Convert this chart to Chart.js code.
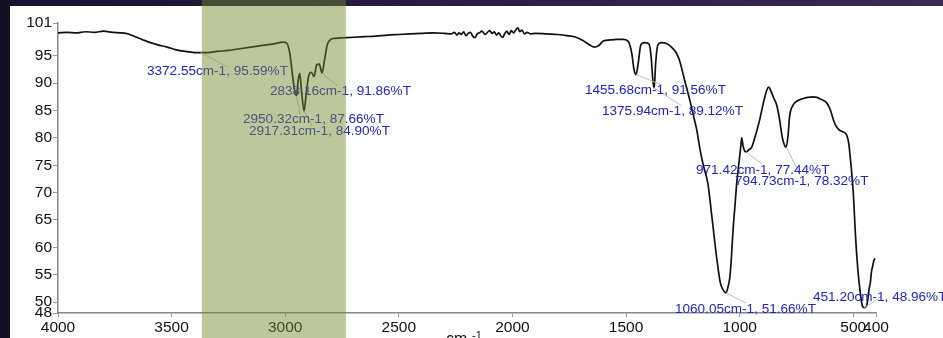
<!DOCTYPE html>
<html>
<head>
<meta charset="utf-8">
<script src="https://cdn.jsdelivr.net/npm/chart.js@4/dist/chart.umd.min.js"></script>
<style>
  html, body { margin: 0; padding: 0; background: #fff; }
  #wrap { width: 943px; height: 338px; }
</style>
</head>
<body>
<div id="wrap"><canvas id="grafica" width="943" height="338"></canvas></div>
<script>
// Espectro IR: número de onda (cm-1) y transmitancia (%T)
const numeroOnda = [
  4000, 3960, 3920, 3880, 3840, 3800, 3760, 3720, 3690, 3660, 3630, 3600, 3560, 3520, 3480, 3440, 3400, 3372, 3340, 3300,
  3250, 3200, 3150, 3100, 3050, 3010, 2995, 2980, 2968, 2960, 2950, 2943, 2936, 2928, 2917, 2908, 2897, 2885, 2873, 2862,
  2850, 2838, 2826, 2815, 2800, 2780, 2740, 2700, 2650, 2600, 2550, 2500, 2450, 2400, 2350, 2300, 2270, 2255, 2245, 2235,
  2225, 2215, 2205, 2195, 2185, 2175, 2165, 2155, 2145, 2135, 2120, 2110, 2100, 2090, 2080, 2070, 2060, 2050, 2042, 2035,
  2025, 2015, 2005, 1995, 1985, 1976, 1968, 1958, 1948, 1935, 1920, 1900, 1850, 1800, 1760, 1720, 1690, 1660, 1640, 1620,
  1600, 1570, 1540, 1510, 1490, 1475, 1465, 1456, 1447, 1435, 1420, 1400, 1390, 1382, 1376, 1370, 1360, 1345, 1320, 1300,
  1280, 1265, 1245, 1220, 1200, 1189, 1175, 1160, 1140, 1122, 1100, 1085, 1074, 1060, 1050, 1043, 1035, 1030, 1020, 1013,
  1003, 995, 991, 985, 978, 971, 960, 947, 930, 912, 895, 880, 872, 862, 850, 837, 825, 812, 802, 795,
  787, 780, 765, 749, 720, 700, 678, 660, 640, 617, 600, 585, 573, 560, 546, 530, 520, 510, 500, 490,
  480, 470, 460, 451, 442, 436, 430, 425, 420, 415, 410, 405
];
const transmitancia = [
  99.2, 99.3, 99.2, 99.4, 99.3, 99.5, 99.3, 99.2, 99.0, 98.5, 98.0, 97.5, 97.0, 96.6, 96.1, 95.8, 95.6, 95.59, 95.6, 95.8,
  96.0, 96.3, 96.6, 96.9, 97.2, 97.5, 97.4, 95.5, 91.5, 89.0, 87.66, 90.5, 91.8, 88.5, 84.9, 88.0, 91.3, 92.0, 91.2, 93.3,
  93.5, 91.86, 94.5, 97.0, 98.0, 98.2, 98.3, 98.4, 98.5, 98.6, 98.8, 98.9, 99.0, 99.1, 99.2, 99.1, 99.0, 99.3, 98.8, 99.2,
  98.9, 99.4, 98.7, 99.1, 99.3, 98.6, 98.3, 99.0, 99.2, 99.5, 98.9, 99.3, 99.6, 99.1, 99.4, 98.8, 99.2, 98.6, 98.4, 99.0,
  99.5, 98.9, 99.6, 99.2, 99.8, 100.1, 99.4, 99.7, 99.0, 99.3, 99.0, 99.1, 99.0, 98.9, 98.7, 98.4, 97.8, 97.0, 96.6, 96.9,
  97.7, 97.9, 98.0, 98.0, 97.6, 95.5, 92.5, 91.56, 93.5, 97.0, 97.4, 97.2, 95.0, 90.5, 89.12, 93.5, 97.0, 97.4, 97.2, 96.6,
  95.6, 94.2, 91.0, 87.0, 83.5, 81.5, 78.0, 75.0, 71.7, 65.5, 57.7, 53.5, 52.3, 51.66, 53.0, 54.6, 59.0, 62.6, 68.0, 71.7,
  75.5, 78.5, 80.0, 78.5, 77.6, 77.44, 77.8, 78.3, 80.5, 83.3, 86.5, 88.8, 89.3, 88.5, 87.3, 86.0, 83.5, 80.0, 78.6, 78.32,
  80.5, 84.0, 86.0, 86.7, 87.2, 87.4, 87.5, 87.4, 87.0, 86.4, 85.0, 83.0, 82.0, 81.4, 81.1, 80.6, 79.0, 75.0, 70.0, 62.0,
  56.0, 52.0, 49.3, 48.96, 49.2, 50.5, 52.5, 53.5, 55.5, 56.5, 57.5, 58.0
];

// Picos marcados
const picosOnda = [3372.55, 2838.16, 2950.32, 2917.31, 1455.68, 1375.94, 971.42, 794.73, 1060.05, 451.20];
const picosT = [95.59, 91.86, 87.66, 84.90, 91.56, 89.12, 77.44, 78.32, 51.66, 48.96];

// Ticks de los ejes
const ticksX = [4000, 3500, 3000, 2500, 2000, 1500, 1000, 500, 400];
const ticksY = [48, 50, 55, 60, 65, 70, 75, 80, 85, 90, 95, 101];

// Zona sombreada (cm-1)
const zonaSombreada = [3367, 2733];

// Posición de las etiquetas (px): [izquierda, centro y, fin de la guía x, fin de la guía y]
const posEtiquetas = [
  [147, 72, 228, 67],
  [270, 92, 338, 86],
  [243, 120, 300, 114],
  [249, 132, 312, 126],
  [585, 91, 662, 85],
  [602, 112, 682, 106],
  [696, 171, 762, 164],
  [735, 182, 800, 175],
  [675, 310, 746, 303],
  [813, 298, 882, 296]
];

const fondo = {
  id: 'fondo',
  beforeDraw(chart) {
    const c = chart.ctx;
    c.save();
    c.fillStyle = '#ffffff';
    c.fillRect(0, 0, chart.width, chart.height);
    const g = c.createLinearGradient(0, 0, chart.width, 0);
    g.addColorStop(0, '#1a1230');
    g.addColorStop(1, '#3a2a55');
    c.fillStyle = g;
    c.fillRect(0, 0, chart.width, 6);
    c.fillStyle = '#150f24';
    c.fillRect(0, 0, 10, chart.height);
    c.restore();
  }
};

const etiquetas = {
  id: 'etiquetas',
  afterDatasetsDraw(chart) {
    const c = chart.ctx;
    const sx = chart.scales.x, sy = chart.scales.y;
    c.save();
    // líneas guía
    c.strokeStyle = '#bdbdbd';
    c.lineWidth = 1;
    picosOnda.forEach((w, i) => {
      const p = posEtiquetas[i];
      c.beginPath();
      c.moveTo(sx.getPixelForValue(w), sy.getPixelForValue(picosT[i]));
      c.lineTo(p[2], p[3]);
      c.stroke();
    });
    // textos
    c.fillStyle = '#2424c4';
    c.font = '12px Arial, "Liberation Sans", sans-serif';
    c.textBaseline = 'middle';
    picosOnda.forEach((w, i) => {
      const p = posEtiquetas[i];
      const txt = w.toFixed(2) + 'cm-1, ' + picosT[i].toFixed(2) + '%T';
      c.save();
      c.translate(p[0], p[1]);
      c.scale(1.13, 1);
      c.fillText(txt, 0, 0);
      c.restore();
    });
    // título del eje x (cortado abajo)
    c.fillStyle = '#111';
    c.font = '16px Arial, "Liberation Sans", sans-serif';
    c.textBaseline = 'alphabetic';
    c.fillText('cm', 446, 344);
    c.font = '11px Arial, "Liberation Sans", sans-serif';
    c.fillText('-1', 472, 339);
    c.restore();
  },
  afterDraw(chart) {
    const c = chart.ctx;
    const sx = chart.scales.x;
    const x1 = sx.getPixelForValue(zonaSombreada[0]);
    const x2 = sx.getPixelForValue(zonaSombreada[1]);
    c.save();
    c.fillStyle = 'rgba(113, 138, 45, 0.47)';
    c.fillRect(x1, 0, x2 - x1, chart.height);
    c.restore();
  }
};

const ctx = document.getElementById('grafica');
window.chartInstance = new Chart(ctx, {
  type: 'line',
  data: {
    datasets: [{
      data: numeroOnda.map((w, i) => ({ x: w, y: transmitancia[i] })),
      borderColor: '#111111',
      borderWidth: 1.7,
      pointRadius: 0,
      fill: false,
      cubicInterpolationMode: 'monotone'
    }]
  },
  options: {
    responsive: false,
    animation: false,
    devicePixelRatio: 1,
    layout: { padding: { left: 0, top: 23, right: 67, bottom: 0 } },
    plugins: {
      legend: { display: false },
      tooltip: { enabled: false }
    },
    scales: {
      x: {
        type: 'linear',
        reverse: true,
        min: 400,
        max: 4000,
        afterBuildTicks: s => { s.ticks = ticksX.map(v => ({ value: v })); },
        afterFit: s => { s.height = 25; },
        grid: { drawOnChartArea: false, drawTicks: true, tickLength: 4, color: '#999' },
        border: { color: '#888', width: 1.5 },
        ticks: {
          autoSkip: false,
          maxRotation: 0,
          padding: 1,
          color: '#111',
          font: { family: 'Arial, "Liberation Sans", sans-serif', size: 15.5 },
          callback: v => String(v)
        }
      },
      y: {
        min: 48,
        max: 101,
        afterBuildTicks: s => { s.ticks = ticksY.map(v => ({ value: v })); },
        afterFit: s => { s.width = 58; },
        grid: { drawOnChartArea: false, drawTicks: true, tickLength: 5, color: '#999' },
        border: { color: '#888', width: 1.5 },
        ticks: {
          autoSkip: false,
          padding: 1,
          color: '#111',
          font: { family: 'Arial, "Liberation Sans", sans-serif', size: 15.5 },
          callback: v => String(v)
        }
      }
    }
  },
  plugins: [fondo, etiquetas]
});
</script>
</body>
</html>
